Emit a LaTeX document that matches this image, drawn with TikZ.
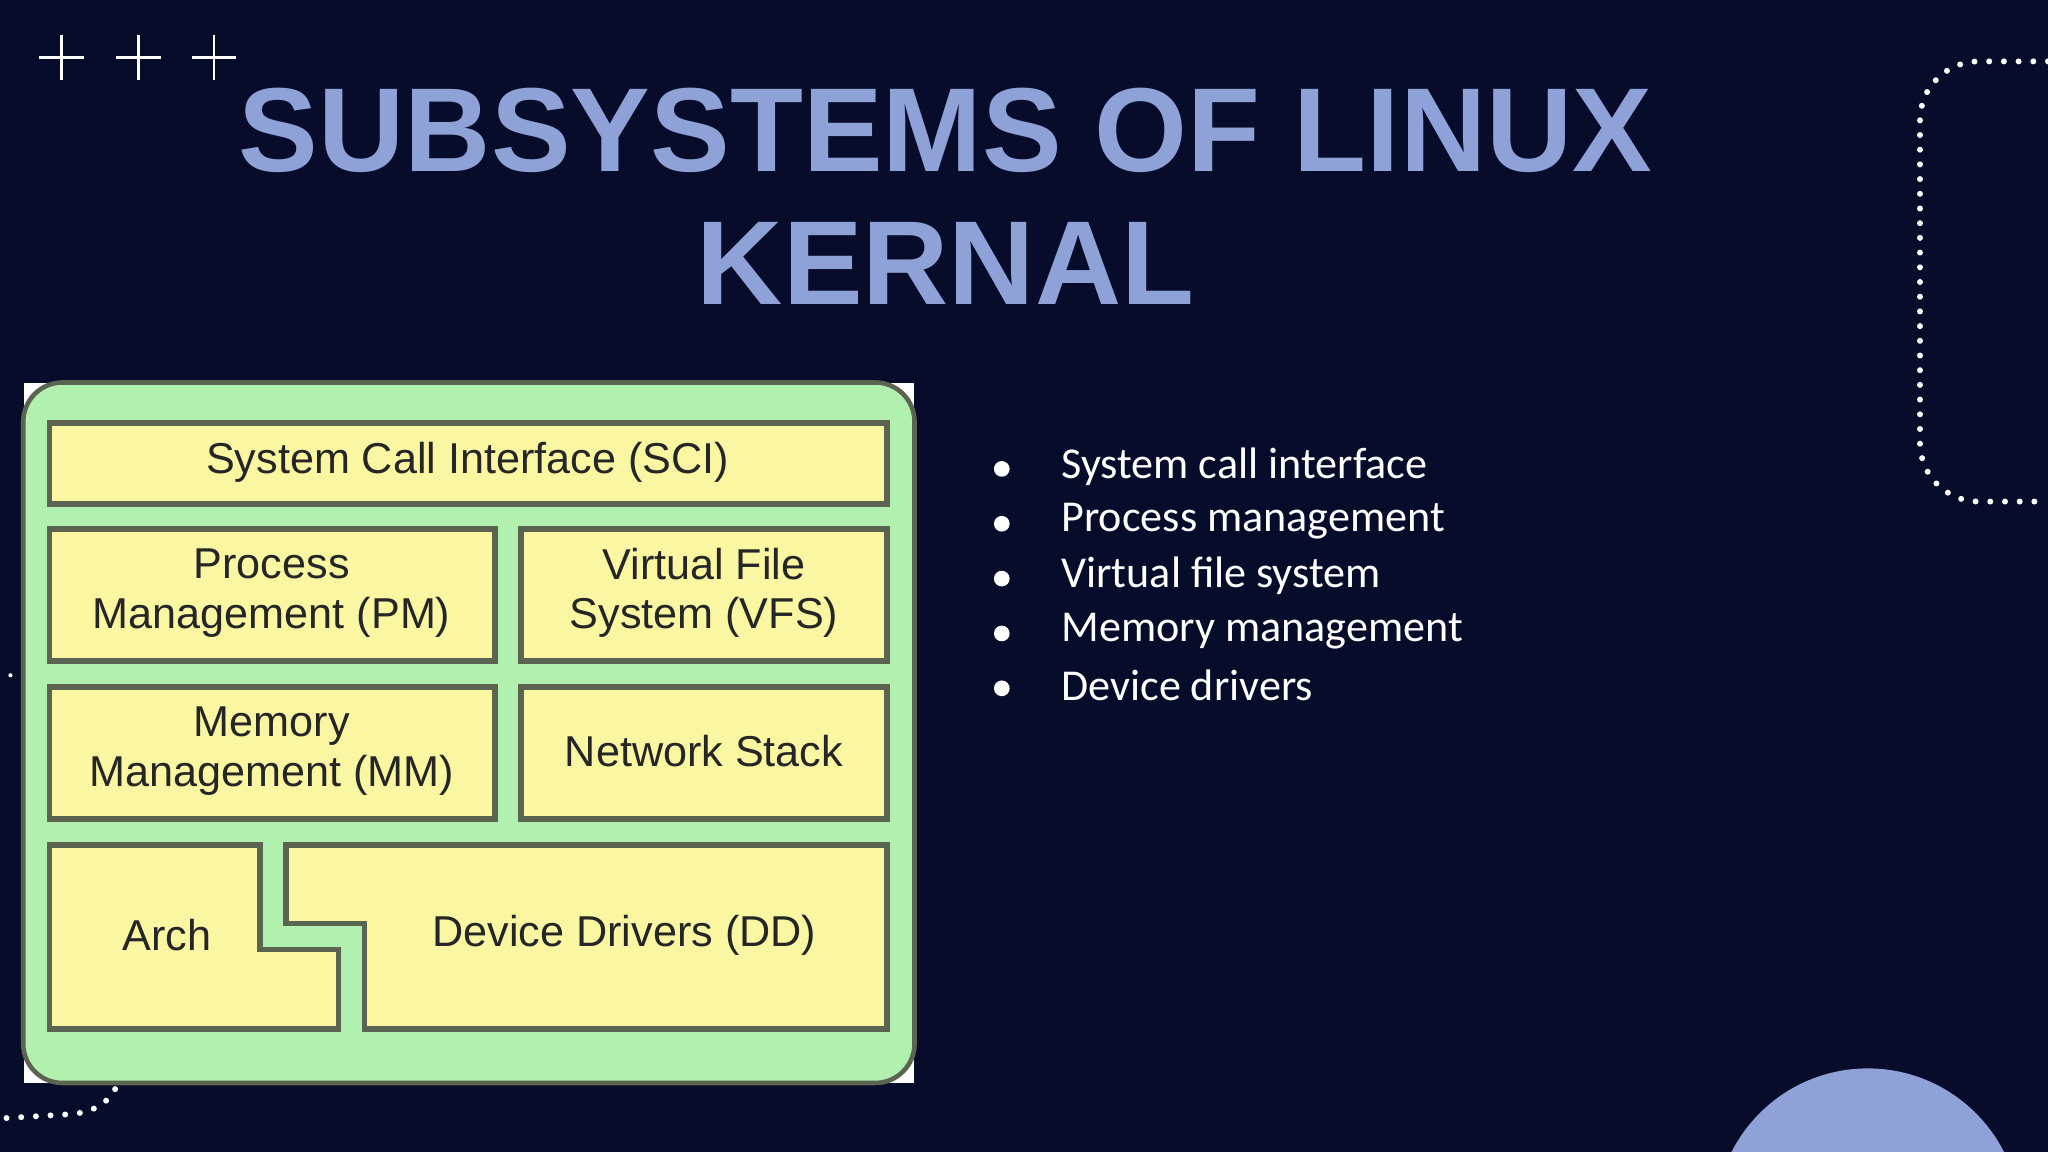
\documentclass[tikz,border=0pt]{standalone}
\usepackage{fontspec}
\setmainfont{Liberation Sans}
\newfontfamily\bulletfont{Carlito}
\definecolor{bg}{HTML}{070C2B}
\definecolor{ttl}{HTML}{8EA2D8}
\definecolor{grn}{HTML}{B2F0B0}
\definecolor{yel}{HTML}{FAF6A2}
\definecolor{bdr}{HTML}{5A6450}
\begin{document}
\begin{tikzpicture}[x=0.01cm,y=-0.01cm,
  box/.style={fill=yel,draw=bdr,line width=1.2pt},
  lbl/.style={font=\fontsize{9.4}{10.8}\selectfont,align=center,text=black!85},
  blt/.style={font=\bulletfont\fontsize{9.6}{10}\selectfont,text=white,anchor=west,inner sep=0pt},
  dots/.style={white,line width=1.3pt,line cap=round,dash pattern=on 0pt off 3.2pt}]
\fill[bg] (0,0) rectangle (1568,882);
\useasboundingbox (0,0) rectangle (1568,882);
% decorations
\foreach \x in {47,106,164}{
  \draw[white,line width=0.5pt] (\x-17,44) -- (\x+17,44) (\x,27) -- (\x,61);}
\draw[dots,rounded corners=0.45cm] (1568,47) -- (1470,47) -- (1470,384) -- (1568,384);
\draw[dots] (5,856) -- (55,853) .. controls (75,851) and (85,842) .. (90,830);
\fill[white] (8,517) circle (1.6);
\fill[ttl] (1430,935) circle (117);
% title
\node[text=ttl,font=\bfseries\fontsize{26}{29}\selectfont,align=center] (title) at (724,150)
  {SUBSYSTEMS OF LINUX\\KERNAL};
% diagram
\fill[white] (18,293) rectangle (700,829);
\node[draw=bdr,fill=grn,line width=1pt,rounded corners=0.3cm,minimum width=6.82cm,minimum height=5.36cm,inner sep=0pt] (outer) at (359,561) {};
\draw[box] (38,324) rectangle (679,386);
\node[lbl] (sci) at (358,354) {System Call Interface (SCI)};
\draw[box] (38,405) rectangle (379,506);
\node[lbl] (pm) at (208,454) {Process\\Management (PM)};
\draw[box] (399,405) rectangle (679,506);
\node[lbl] (vfs) at (539,454) {Virtual File\\System (VFS)};
\draw[box] (38,526) rectangle (379,627);
\node[lbl] (mm) at (208,575) {Memory\\Management (MM)};
\draw[box] (399,526) rectangle (679,627);
\node[lbl] (ns) at (539,575) {Network Stack};
\draw[box] (38,647) -- (199,647) -- (199,727) -- (259,727) -- (259,788) -- (38,788) -- cycle;
\node[lbl] (arch) at (128,716) {Arch};
\draw[box] (219,647) -- (679,647) -- (679,788) -- (279,788) -- (279,707) -- (219,707) -- cycle;
\node[lbl] (dd) at (478,716) {Device Drivers (DD)};
% bullets
\foreach \y/\t/\n in {357/System call interface/b1,399/Process management/b2,441/Virtual file system/b3,483/Memory management/b4,525/Device drivers/b5}{
  \fill[white] (767,\y+2) circle (6);
  \node[blt] (\n) at (812,\y) {\t};}
\end{tikzpicture}
\end{document}
